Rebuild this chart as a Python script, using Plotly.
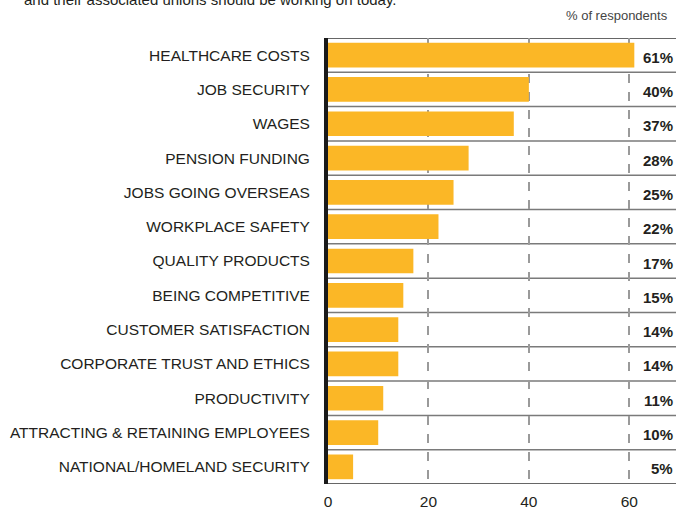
import plotly.graph_objects as go

# Survey issues ranked by share of respondents
categories = [
    "HEALTHCARE COSTS",
    "JOB SECURITY",
    "WAGES",
    "PENSION FUNDING",
    "JOBS GOING OVERSEAS",
    "WORKPLACE SAFETY",
    "QUALITY PRODUCTS",
    "BEING COMPETITIVE",
    "CUSTOMER SATISFACTION",
    "CORPORATE TRUST AND ETHICS",
    "PRODUCTIVITY",
    "ATTRACTING & RETAINING EMPLOYEES",
    "NATIONAL/HOMELAND SECURITY",
]
values = [61, 40, 37, 28, 25, 22, 17, 15, 14, 14, 11, 10, 5]
x_ticks = [0, 20, 40, 60]

BAR = "#FBB726"
INK = "#231F20"
FONT = "Liberation Sans, Arial, sans-serif"

positions = list(range(len(categories)))

fig = go.Figure(
    go.Bar(
        x=values,
        y=positions,
        orientation="h",
        marker=dict(color=BAR, line=dict(width=0)),
        width=0.72,
        hoverinfo="x+y",
    )
)

# Row separators between bars, darker rules on top and bottom
shapes = []
for k in range(len(categories) + 1):
    edge = k in (0, len(categories))
    shapes.append(
        dict(
            type="line", xref="paper", yref="y",
            x0=0, x1=1, y0=k - 0.5, y1=k - 0.5,
            line=dict(color="#333333" if edge else "#7a7a7a", width=1.5),
            layer="below",
        )
    )

annotations = [
    dict(
        xref="paper", yref="y", x=1, y=p, xanchor="right", yanchor="middle",
        xshift=-1, yshift=-2,
        text=f"<b>{v}%</b>", showarrow=False,
        font=dict(family=FONT, size=15, color=INK),
    )
    for p, v in zip(positions, values)
]
annotations.append(
    dict(
        xref="paper", yref="paper", x=1, y=1, xanchor="right", yanchor="middle",
        xshift=-6, yshift=23, text="% of respondents", showarrow=False,
        font=dict(family=FONT, size=13, color="#444444"),
    )
)
annotations.append(
    dict(
        xref="paper", yref="paper", x=0, y=1, xanchor="left", yanchor="middle",
        xshift=-306, yshift=39,
        text="and their associated unions should be working on today.",
        showarrow=False,
        font=dict(family=FONT, size=15, color=INK),
    )
)

fig.update_layout(
    width=676, height=510,
    margin=dict(l=328, r=0, t=38, b=23),
    paper_bgcolor="white", plot_bgcolor="white",
    showlegend=False,
    bargap=0.28,
    font=dict(family=FONT, size=15, color=INK),
    shapes=shapes,
    annotations=annotations,
    xaxis=dict(
        range=[0, 69.3],
        tickvals=x_ticks,
        ticktext=[str(t) for t in x_ticks],
        showgrid=True, gridcolor="#9a9a9a", gridwidth=1.5, griddash="dash",
        zeroline=False, showline=False, ticks="",
        ticklabelstandoff=6,
        tickfont=dict(family=FONT, size=15.5, color=INK),
    ),
    yaxis=dict(
        range=[len(categories) - 0.5, -0.5],
        tickvals=positions, ticktext=categories,
        showgrid=False, zeroline=False,
        showline=True, linecolor="#1a1a1a", linewidth=4,
        ticks="", ticklabelstandoff=11,
        tickfont=dict(family=FONT, size=15.5, color=INK),
    ),
)

fig.write_html("out.html")
